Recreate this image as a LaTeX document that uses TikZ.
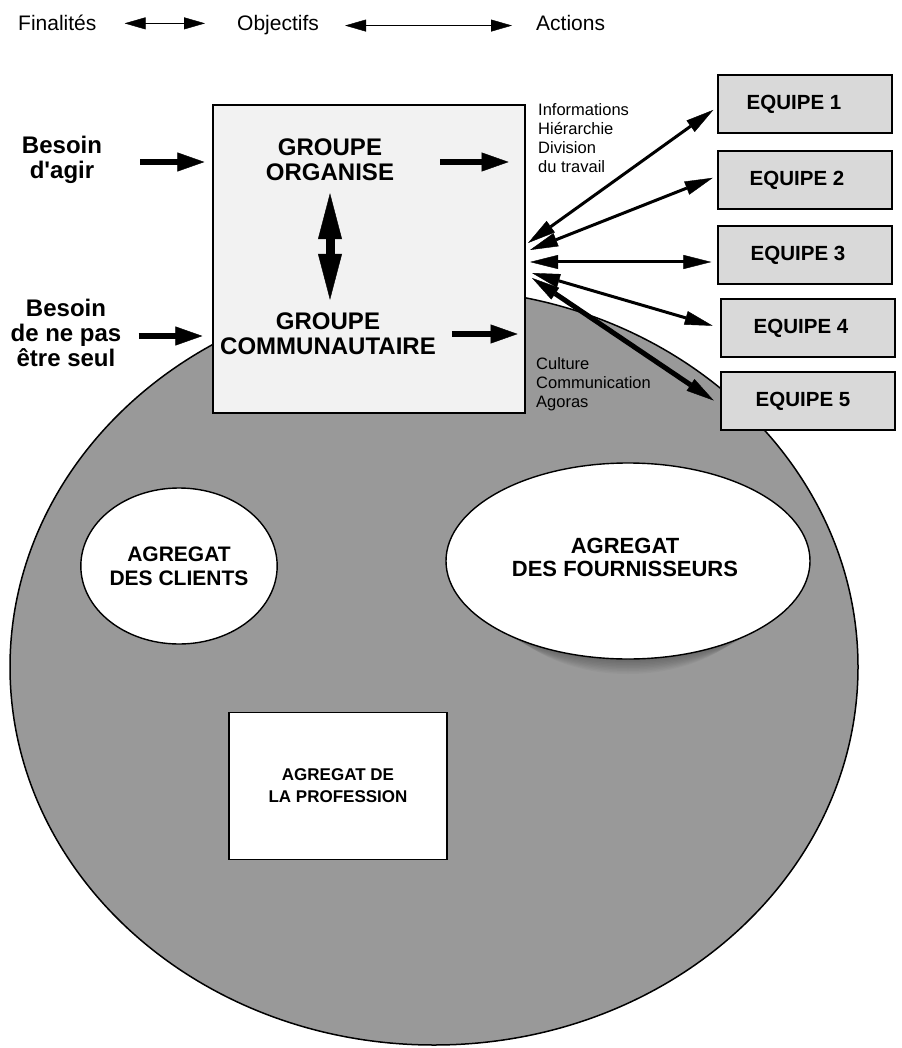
\documentclass[tikz,border=0pt]{standalone}
\usepackage{fontspec}
\setmainfont{Liberation Sans}
\usetikzlibrary{arrows.meta,shapes.geometric,calc}
\definecolor{bigfill}{gray}{0.6}
\definecolor{boxfill}{gray}{0.95}
\definecolor{eqfill}{gray}{0.85}
\begin{document}
\begin{tikzpicture}[x=1pt,y=-1pt,
  lab/.style={font=\fontsize{21}{24}\selectfont, inner sep=0pt, anchor=base west},
  bold/.style={font=\fontsize{24}{25}\selectfont\bfseries, align=center, inner sep=2pt},
  small/.style={font=\fontsize{16.5}{19}\selectfont, align=left, inner sep=0pt, anchor=north west},
  toparrow/.style={line width=1.6pt, {Triangle[length=21pt,width=12pt,line width=0.4pt]}-{Triangle[length=21pt,width=12pt,line width=0.4pt]}},
  fat/.style={line width=6pt, -{Triangle[length=27pt,width=19pt,line width=0.4pt]}},
  vd/.style={line width=9pt, {Triangle[length=46pt,width=24pt,line width=0.4pt]}-{Triangle[length=46pt,width=24pt,line width=0.4pt]}},
  eqarrow/.style={line width=3pt, {Triangle[length=28pt,width=14pt,line width=0.4pt]}-{Triangle[length=28pt,width=14pt,line width=0.4pt]}},
  eqbox/.style={draw, line width=1.2pt, fill=eqfill, minimum width=174pt, minimum height=58pt, inner sep=0pt, font=\fontsize{20.5}{22}\selectfont\bfseries},
  agg/.style={draw, fill=white, line width=1.4pt, inner sep=0pt, align=center},
]
\useasboundingbox (0,0) rectangle (901,1048);

% big world ellipse
\node[draw, ellipse, line width=1.5pt, fill=bigfill, minimum width=848pt, minimum height=756pt, inner sep=0pt] (world) at (434,667) {};

% top row
\node[lab] (fin) at (18,31) {Finalités};
\node[lab] (obj) at (237,31) {Objectifs};
\node[lab] (act) at (536,31) {Actions};
\draw[toparrow, shorten <=28pt, shorten >=32pt] (fin.east) -- (fin.east -| obj.west);
\draw[toparrow, shorten <=26pt, shorten >=24pt] (obj.east) -- (obj.east -| act.west);

% main box
\node[draw, line width=1.2pt, fill=boxfill, minimum width=312pt, minimum height=308pt, inner sep=0pt] (main) at (369,259) {};
\node[bold] (org) at (330,160) {GROUPE\\ORGANISE};
\node[bold] (com) at (328,334) {GROUPE\\COMMUNAUTAIRE};
\draw[vd, shorten <=10pt, shorten >=11pt] (org.south) -- (org.south |- com.north);

% needs
\node[bold] (b1) at (62,160) {Besoin\\d\textquotesingle agir};
\node[bold] (b2) at (66,333) {Besoin\\de ne pas\\être seul};
\draw[fat, shorten <=36pt, shorten >=8pt] ([yshift=-2pt]b1.east) -- ([yshift=-2pt]b1.east -| main.west);
\draw[fat, shorten <=15pt, shorten >=10pt] ([yshift=-3pt]b2.east) -- ([yshift=-3pt]b2.east -| main.west);
\draw[fat, shorten <=44pt, shorten >=17pt] ([yshift=-2pt]org.east) -- ([yshift=-2pt]org.east -| main.east);
\draw[fat, shorten <=14pt, shorten >=8pt] (com.east) -- (com.east -| main.east);

% small labels
\node[small] (info) at (538,103) {Informations\\Hiérarchie\\Division\\du travail};
\node[small] (cult) at (536,357) {Culture\\Communication\\Agoras};

% teams
\node[eqbox] (e1) at (805,104) {EQUIPE 1\kern22pt};
\node[eqbox] (e2) at (805,180) {EQUIPE 2\kern16pt};
\node[eqbox] (e3) at (805,255) {EQUIPE 3\kern14pt};
\node[eqbox] (e4) at (808,328) {EQUIPE 4\kern14pt};
\node[eqbox] (e5) at (808,401) {EQUIPE 5\kern10pt};

\coordinate (h1) at (528,243);
\coordinate (h2) at (530,250);
\coordinate (h3) at (530,262);
\coordinate (h4) at (532,273);
\coordinate (h5) at (532,278);
\draw[eqarrow, shorten >=5pt] (h1) -- ([yshift=-3pt]e1.west);
\draw[eqarrow, shorten >=5pt] (h2) -- ([yshift=4pt]e2.west);
\draw[eqarrow, shorten >=6pt] (h3) -- (h3 -| e3.west);
\draw[eqarrow, shorten >=8pt] (h4) -- (e4.west);
\draw[eqarrow, line width=5pt, shorten >=8pt] (h5) -- ([yshift=-4pt]e5.west);

% aggregates
\node[agg, ellipse, minimum width=168pt, minimum height=156pt, font=\fontsize{21}{24}\selectfont\bfseries] (cli) at (179,566) {AGREGAT\\DES CLIENTS};
\foreach \i in {1,...,10}
  \fill[black, opacity=0.03] (628,{561+1.5*\i}) ellipse [x radius={182-4*\i}, y radius=98];
\node[agg, ellipse, minimum width=364pt, minimum height=196pt] (four) at (628,561) {};
\node[font=\fontsize{22}{23}\selectfont\bfseries, align=center] (fourtxt) at (625,557) {AGREGAT\\DES FOURNISSEURS};
\node[agg, rectangle, minimum width=218pt, minimum height=147pt, font=\fontsize{17}{22}\selectfont\bfseries] (prof) at (338,786) {AGREGAT DE\\LA PROFESSION};
\end{tikzpicture}
\end{document}
